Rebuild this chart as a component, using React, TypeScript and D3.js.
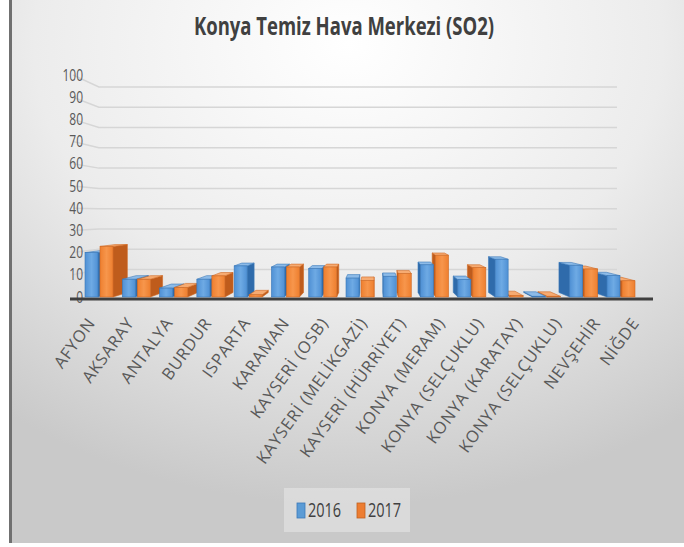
import React from 'react';
import * as d3 from 'd3';

const categories = [
  'AFYON', 'AKSARAY', 'ANTALYA', 'BURDUR', 'ISPARTA', 'KARAMAN', 'KAYSERİ (OSB)',
  'KAYSERİ (MELİKGAZİ)', 'KAYSERİ (HÜRRİYET)', 'KONYA (MERAM)', 'KONYA (SELÇUKLU)',
  'KONYA (KARATAY)', 'KONYA (SELÇUKLU)', 'NEVŞEHİR', 'NİĞDE',
];
const s2016 = [20, 8, 4, 8, 14, 13.5, 12.8, 8.5, 9.3, 14.5, 7.8, 17, 0.3, 14.3, 9.6];
const s2017 = [22.8, 8, 4.3, 9.5, 1, 13.5, 13.5, 7.4, 10.5, 18.8, 13.2, 0.6, 0.3, 12.6, 7.3];
const seriesNames = ['2016', '2017'];
const yTicks = d3.range(0, 101, 10);

const W = 684;
const H = 547;
// vanishing point of the fake 3D view
const VX = 374;
const VY = 214;
const proj = (x: number, y: number, k: number): [number, number] => [x + (VX - x) * k, y + (VY - y) * k];
// the source picture is stretched vertically, text too
const STRETCH = 1.35;

const colors = [
  { front: 'url(#gBlue)', side: '#2f6bab', top: '#8dbbe8', stroke: '#3a78b8' },
  { front: 'url(#gOrange)', side: '#bf5c1c', top: '#f6ab72', stroke: '#d06a25' },
];

export default function App() {
  const y = d3.scaleLinear().domain([0, 100]).range([297, 75]);
  const idx = categories.map((_, i) => String(i));
  const xBar = d3.scalePoint().domain(idx).range([99, 621]);
  const xLab = d3.scalePoint().domain(idx).range([96, 640]);
  const wallK = 0.086;
  const depth = 0.055;
  const barW = 13;

  const bars: any[] = [];
  [s2016, s2017].forEach((vals, s) => {
    vals.forEach((v, i) => {
      const c = xBar(String(i)) as number;
      const x0 = s === 0 ? c - 1 - barW : c + 1;
      const x1 = x0 + barW;
      const yt = y(v);
      const yb = y(0);
      bars.push({ s, i, x0, x1, yt, yb, cx: (x0 + x1) / 2 });
    });
  });
  bars.sort((a, b) => Math.abs(b.cx - VX) - Math.abs(a.cx - VX));

  const pts = (p: [number, number][]) => p.map((q) => q.join(',')).join(' ');

  return (
    <svg width={W} height={H} style={{ position: 'absolute', left: 0, top: 0 }} fontFamily="'Open Sans', sans-serif">
      <defs>
        <radialGradient id="bg" cx="0.5" cy="0.08" r="0.85">
          <stop offset="0" stopColor="#ffffff" />
          <stop offset="0.55" stopColor="#ececec" />
          <stop offset="1" stopColor="#c9c9c9" />
        </radialGradient>
        <linearGradient id="gBlue" x1="0" x2="1" y1="0" y2="0">
          <stop offset="0" stopColor="#4f90d4" />
          <stop offset="0.5" stopColor="#6eaae4" />
          <stop offset="1" stopColor="#4f90d4" />
        </linearGradient>
        <linearGradient id="gOrange" x1="0" x2="1" y1="0" y2="0">
          <stop offset="0" stopColor="#ee7f2f" />
          <stop offset="0.5" stopColor="#f7964c" />
          <stop offset="1" stopColor="#ee7f2f" />
        </linearGradient>
      </defs>
      <rect width={W} height={H} fill="#ffffff" />
      <rect x={12} y={0} width={W - 12} height={543} fill="url(#bg)" />
      <rect x={9} y={0} width={3} height={543} fill="#707070" />

      <text transform={`translate(344,35) scale(1,${STRETCH})`} textAnchor="middle" fontSize={18.5}
        fontWeight="bold" fill="#404040">
        Konya Temiz Hava Merkezi (SO2)
      </text>

      {/* back wall gridlines */}
      {yTicks.filter((t) => t > 0).map((t) => {
        const [bx, by] = proj(73, y(t), wallK);
        return (
          <polyline key={t} points={pts([[73, y(t)], [bx, by], [617, by]])}
            fill="none" stroke="#d6d6d6" strokeWidth={1.5} />
        );
      })}

      {yTicks.map((t) => (
        <text key={t} transform={`translate(83,${y(t)}) scale(1,${STRETCH})`} dy="0.35em"
          textAnchor="end" fontSize={12} fill="#595959">
          {t}
        </text>
      ))}

      {/* floor edge */}
      <rect x={70} y={297.5} width={583} height={3} fill="#3f3f3f" />

      {bars.map((b) => {
        const c = colors[b.s];
        const sx = b.cx < VX ? b.x1 : b.x0;
        const side: [number, number][] = [[sx, b.yt], proj(sx, b.yt, depth), proj(sx, b.yb, depth), [sx, b.yb]];
        const top: [number, number][] = [[b.x0, b.yt], [b.x1, b.yt], proj(b.x1, b.yt, depth), proj(b.x0, b.yt, depth)];
        return (
          <g key={`${b.s}-${b.i}`}>
            <polygon points={pts(side)} fill={c.side} stroke={c.stroke} strokeWidth={0.6} />
            <polygon points={pts(top)} fill={c.top} stroke={c.stroke} strokeWidth={0.6} />
            <rect x={b.x0} y={b.yt} width={b.x1 - b.x0} height={Math.max(0.5, b.yb - b.yt)}
              fill={c.front} stroke={c.stroke} strokeWidth={0.6} />
          </g>
        );
      })}

      {categories.map((name, i) => {
        const lx = xLab(String(i)) as number;
        return (
          <text key={i} transform={`translate(${lx},323) rotate(-54)`} textAnchor="end"
            fontSize={16.5} letterSpacing={0.8} fill="#595959">
            {name}
          </text>
        );
      })}

      {/* legend */}
      <rect x={284} y={488} width={126} height={44} fill="#e6e6e6" opacity={0.6} />
      {seriesNames.map((n, i) => (
        <g key={n} transform={`translate(${297 + i * 60},0)`}>
          <rect x={0} y={503} width={8} height={15} fill={i === 0 ? '#5b9bd5' : '#ed7d31'}
            stroke={i === 0 ? '#3a78b8' : '#c0601f'} strokeWidth={0.8} />
          <text transform={`translate(11,517) scale(1,1.4)`} fontSize={14.5} fill="#404040">{n}</text>
        </g>
      ))}
    </svg>
  );
}
